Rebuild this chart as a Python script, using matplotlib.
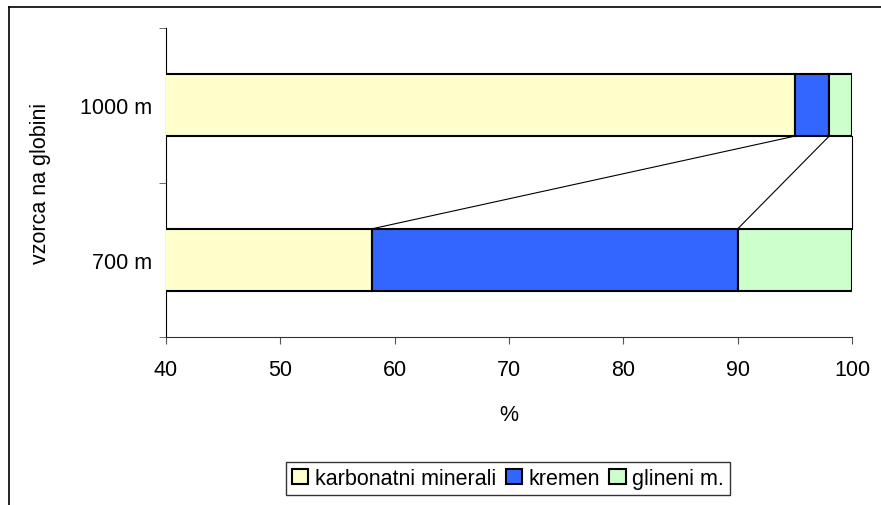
import matplotlib.pyplot as plt
from matplotlib.lines import Line2D
from matplotlib.patches import Patch

plt.rcParams["font.family"] = ["Liberation Sans", "DejaVu Sans"]

depths = ["700 m", "1000 m"]
series = ["karbonatni minerali", "kremen", "glineni m."]
values = {
    "karbonatni minerali": [58, 95],
    "kremen": [32, 3],
    "glineni m.": [10, 2],
}
colors = ["#FFFFCC", "#3366FF", "#CCFFCC"]
xticks = [40, 50, 60, 70, 80, 90, 100]

bar_h = 0.4
fs = 15.5

fig = plt.figure(figsize=(8.81, 5.06), dpi=100)
ax = fig.add_axes([0.1884, 0.332, 0.7787, 0.6107])

# stacked bars
left = [0, 0]
cum = []
for name, col in zip(series, colors):
    vals = values[name]
    ax.barh(range(len(depths)), vals, left=left, height=bar_h,
            color=col, edgecolor="black", linewidth=1.5, zorder=3)
    left = [l + v for l, v in zip(left, vals)]
    cum.append(list(left))

# series lines between the two bars
for ends in cum:
    ax.plot([ends[1], ends[0]], [1 - bar_h / 2, 0 + bar_h / 2],
            color="black", linewidth=0.8, zorder=2, clip_on=False)

ax.set_xlim(40, 100)
ax.set_ylim(-0.5, 1.5)
ax.set_xticks(xticks)
ax.set_yticks(range(len(depths)))
ax.set_yticklabels(depths)
ax.set_yticks([-0.5, 0.5, 1.5], minor=True)

ax.tick_params(axis="y", which="major", length=0, pad=10, labelsize=fs)
ax.tick_params(axis="y", which="minor", length=5, direction="out", color="#555555")
ax.tick_params(axis="x", length=5, direction="out", pad=11, labelsize=fs, color="#555555")

for s in ["top", "right"]:
    ax.spines[s].set_visible(False)
ax.spines["left"].set_color("black")
ax.spines["bottom"].set_color("#333333")

ax.set_xlabel("%", fontsize=fs, labelpad=17)
ax.set_ylabel("vzorca na globini", fontsize=fs, labelpad=21)

handles = [Patch(facecolor=c, edgecolor="black", linewidth=1.5) for c in colors]
leg = fig.legend(handles, series, loc="center", bbox_to_anchor=(0.5766, 0.0524),
                 ncol=3, frameon=True, fancybox=False, fontsize=fs,
                 handlelength=0.75, handleheight=0.75, handletextpad=0.3,
                 columnspacing=0.45, borderpad=0.3)
leg.get_frame().set_edgecolor("black")
leg.get_frame().set_linewidth(1.0)

# outer frame (top and left edges)
fig.add_artist(Line2D([9 / 881, 1], [1 - 8 / 506, 1 - 8 / 506],
                      transform=fig.transFigure, color="black", linewidth=1.2))
fig.add_artist(Line2D([9 / 881, 9 / 881], [0, 1 - 8 / 506],
                      transform=fig.transFigure, color="black", linewidth=1.2))

fig.savefig("out.png", dpi=100)
